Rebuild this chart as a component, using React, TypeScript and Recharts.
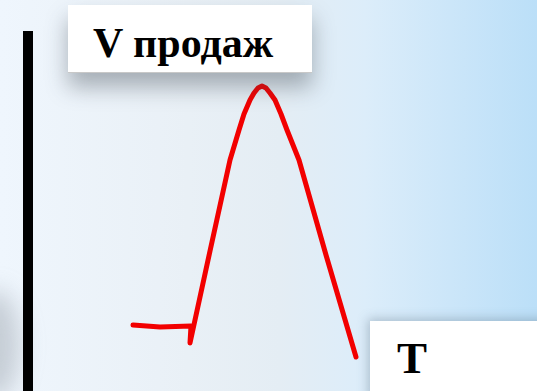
import React from "react";
import { LineChart, Line, XAxis, YAxis } from "recharts";

// Time (T) and sales volume (V продаж)
const timeValues = [105, 132, 163, 162, 182, 202, 211, 216, 222, 226, 230, 234, 238, 242, 247, 253, 259, 271, 298, 328];
const salesValues = [66, 64, 65, 48, 140, 231, 261, 277, 291, 298, 303, 305, 303, 298, 291, 277, 261, 231, 136, 34];
const yAxisTitle = "V продаж";
const xAxisTitle = "T";

const data = timeValues.map((t, i) => ({ t, v: salesValues[i] }));

const W = 537;
const H = 391;

export default function App() {
  return (
    <div
      style={{
        position: "absolute",
        left: 0,
        top: 0,
        width: W,
        height: H,
        overflow: "hidden",
        background:
          "linear-gradient(to right, #eff6fd 0%, #e9f0f6 35%, #e4edf4 52%, #dcedfa 68%, #bbdff8 100%)",
      }}
    >
      {/* soft vignette at lower left */}
      <div
        style={{
          position: "absolute",
          left: -30,
          top: 290,
          width: 50,
          height: 110,
          borderRadius: "50%",
          background: "rgba(120,130,140,0.35)",
          filter: "blur(12px)",
        }}
      />
      <div style={{ position: "absolute", left: 0, top: 0 }}>
        <LineChart width={W} height={H} data={data} margin={{ top: 31, right: 0, bottom: 0, left: 0 }}>
          <XAxis dataKey="t" type="number" domain={[0, 509]} hide />
          <YAxis
            type="number"
            domain={[0, 360]}
            width={28}
            tick={false}
            tickLine={false}
            axisLine={{ stroke: "#000", strokeWidth: 10 }}
          />
          <Line
            dataKey="v"
            type="linear"
            stroke="#f20000"
            strokeWidth={5}
            dot={false}
            isAnimationActive={false}
            strokeLinejoin="round"
            strokeLinecap="round"
          />
        </LineChart>
      </div>
      {/* top title box */}
      <div
        style={{
          position: "absolute",
          left: 68,
          top: 5,
          width: 244,
          height: 67,
          background: "#fff",
          boxShadow: "0 14px 22px rgba(60,70,80,0.4)",
          borderBottom: "1px solid #c8c8c8",
        }}
      >
        <div
          style={{
            position: "absolute",
            left: 25,
            top: 14,
            fontFamily: "'Liberation Serif', 'Times New Roman', serif",
            fontWeight: "bold",
            fontSize: 42,
            lineHeight: "48px",
            color: "#000",
            whiteSpace: "nowrap",
          }}
        >
          {yAxisTitle}
        </div>
      </div>
      {/* bottom-right T box */}
      <div
        style={{
          position: "absolute",
          left: 370,
          top: 321,
          width: 180,
          height: 80,
          background: "#fff",
          boxShadow: "-2px -2px 10px rgba(80,100,120,0.35)",
        }}
      >
        <div
          style={{
            position: "absolute",
            left: 27,
            top: 12,
            fontFamily: "'Liberation Serif', 'Times New Roman', serif",
            fontWeight: "bold",
            fontSize: 45,
            lineHeight: "50px",
            color: "#000",
          }}
        >
          {xAxisTitle}
        </div>
      </div>
    </div>
  );
}
